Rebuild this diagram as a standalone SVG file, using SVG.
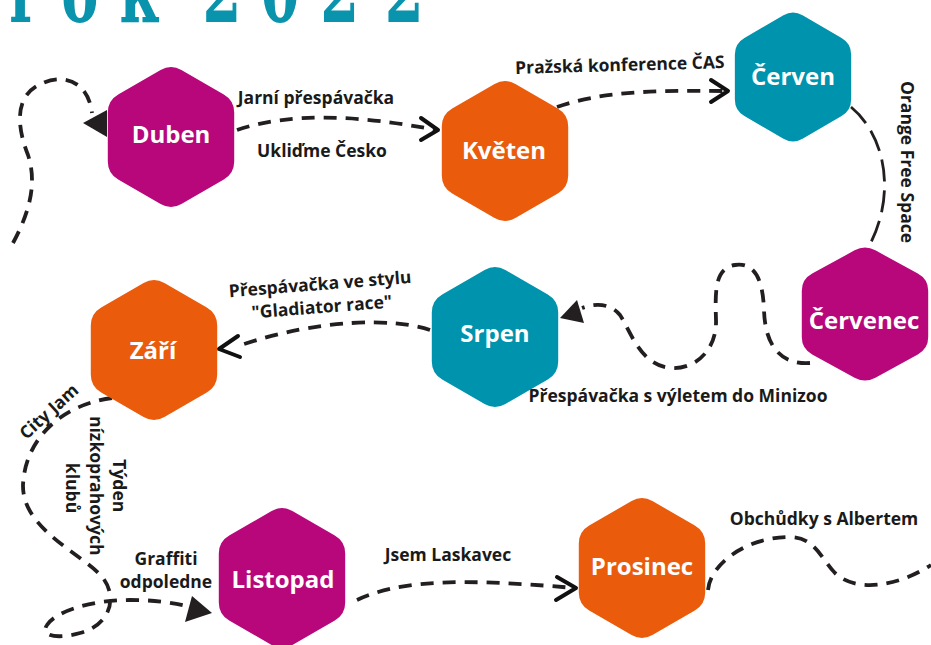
<svg xmlns="http://www.w3.org/2000/svg" xmlns:xlink="http://www.w3.org/1999/xlink" width="931" height="645" viewBox="0 0 931 645">
<defs>
<style>
.mag{fill:#b7077b}
.ora{fill:#ea5b0c}
.tea{fill:#0093ad}
.hx{font-family:"Open Sans","Noto Sans","Liberation Sans",sans-serif;font-weight:700;font-size:24px;fill:#ffffff;text-anchor:middle}
.lb{font-family:"Open Sans","Noto Sans","Liberation Sans",sans-serif;font-weight:700;font-size:17.5px;fill:#1a1a1a;text-anchor:middle}
.dash{fill:none;stroke:#231f20;stroke-width:3.8;stroke-dasharray:13 9}
.long{fill:none;stroke:#231f20;stroke-width:2.8;stroke-dasharray:22 9}
.chev{fill:none;stroke:#111;stroke-width:4;stroke-linecap:round;stroke-linejoin:round}
.tri{fill:#231f20}
.title{font-family:"DejaVu Serif","Liberation Serif",serif;font-weight:700;font-size:90px;fill:#0a93ad;text-anchor:middle}
</style>
<path id="hex" d="M -10.4,-67 Q 0,-73 10.4,-67 L 52.8,-42.5 Q 63.2,-36.5 63.2,-24.5 L 63.2,24.5 Q 63.2,36.5 52.8,42.5 L 10.4,67 Q 0,73 -10.4,67 L -52.8,42.5 Q -63.2,36.5 -63.2,24.5 L -63.2,-24.5 Q -63.2,-36.5 -52.8,-42.5 Z"/>
</defs>
<rect width="931" height="645" fill="#ffffff"/>
<text class="title" transform="scale(0.62,1)" x="38.7 129 224 290 358 452 548 652" y="22">rok 2022</text>

<g id="connectors">
<path class="dash" d="M13,243 C 28,215 38,185 28,155 C 18,130 12,95 43,83 C 62,74 88,80 92,113"/>
<polygon class="tri" points="107,110 107,137 83,123"/>
<path class="dash" d="M237,130 C 290,112 360,115 436,130"/>
<polyline class="chev" points="421,118 438,130 421,140"/>
<path class="dash" d="M557,107 C 600,92 650,90 724,91"/>
<polyline class="chev" points="711,80 728,91 711,102"/>
<path class="long" d="M851,107 C 885,135 898,195 867,250"/>
<path class="dash" d="M810,363 C 780,365 765,345 764,310 C 763,280 755,262 735,265 C 715,268 715,290 716,320 C 717,350 695,370 670,368 C 640,365 630,330 620,315 C 610,303 595,303 582,308"/>
<polygon class="tri" points="560,318 577,300 584,323"/>
<path class="dash" d="M430,330 C 395,318 320,318 238,346"/>
<polyline class="chev" points="238,336 219,349 240,357"/>
<path class="dash" d="M112,398 C 60,405 25,440 23,485 C 22,530 85,555 103,578 C 118,598 110,625 80,633 C 55,640 40,635 47,625 C 55,612 90,600 130,600 C 160,600 180,604 194,608"/>
<polygon class="tri" points="192,596 212,613 185,622"/>
<path class="dash" d="M357,600 C 400,580 460,578 574,588"/>
<polyline class="chev" points="557,577 576,588 556,600"/>
<path class="dash" d="M708,590 C 710,565 745,537 790,537 C 815,537 822,560 835,573 C 855,592 895,588 931,565"/>
</g>

<g id="labels">
<text class="lb" x="316" y="104">Jarní přespávačka</text>
<text class="lb" x="322" y="157">Ukliďme Česko</text>
<text class="lb" x="620" y="71" transform="rotate(-1.6 620 71)">Pražská konference ČAS</text>
<text class="lb" transform="translate(901,162) rotate(90)" x="0" y="0">Orange Free Space</text>
<text class="lb" x="678" y="402">Přespávačka s výletem do Minizoo</text>
<g transform="rotate(-4.5 321 297)">
<text class="lb" x="321" y="290">Přespávačka ve stylu</text>
<text class="lb" x="321" y="313">"Gladiator race"</text>
</g>
<text class="lb" transform="translate(53,416) rotate(-42)" x="0" y="0">City Jam</text>
<text class="lb" transform="translate(113,488) rotate(90)">
<tspan x="0" y="0">Týden</tspan>
<tspan x="0" y="23">nízkoprahových</tspan>
<tspan x="0" y="47">klubů</tspan>
</text>
<text class="lb" x="166" y="565">Graffiti</text>
<text class="lb" x="166" y="588">odpoledne</text>
<text class="lb" x="448" y="561">Jsem Laskavec</text>
<text class="lb" x="824" y="525">Obchůdky s Albertem</text>
</g>

<g id="duben"><use xlink:href="#hex" class="mag" transform="translate(171,137)"/><text class="hx" x="171" y="143">Duben</text></g>
<g id="kveten"><use xlink:href="#hex" class="ora" transform="translate(505,151)"/><text class="hx" x="504" y="159">Květen</text></g>
<g id="cerven"><use xlink:href="#hex" class="tea" transform="translate(793,77) scale(0.92)"/><text class="hx" x="793" y="85">Červen</text></g>
<g id="cervenec"><use xlink:href="#hex" class="mag" transform="translate(865,314) scale(1,0.95)"/><text class="hx" x="864" y="329">Červenec</text></g>
<g id="srpen"><use xlink:href="#hex" class="tea" transform="translate(495,337)"/><text class="hx" x="495" y="342">Srpen</text></g>
<g id="zari"><use xlink:href="#hex" class="ora" transform="translate(154,350)"/><text class="hx" x="153" y="359">Září</text></g>
<g id="listopad"><use xlink:href="#hex" class="mag" transform="translate(282,578)"/><text class="hx" x="283" y="588">Listopad</text></g>
<g id="prosinec"><use xlink:href="#hex" class="ora" transform="translate(642,568)"/><text class="hx" x="642" y="575">Prosinec</text></g>
</svg>
